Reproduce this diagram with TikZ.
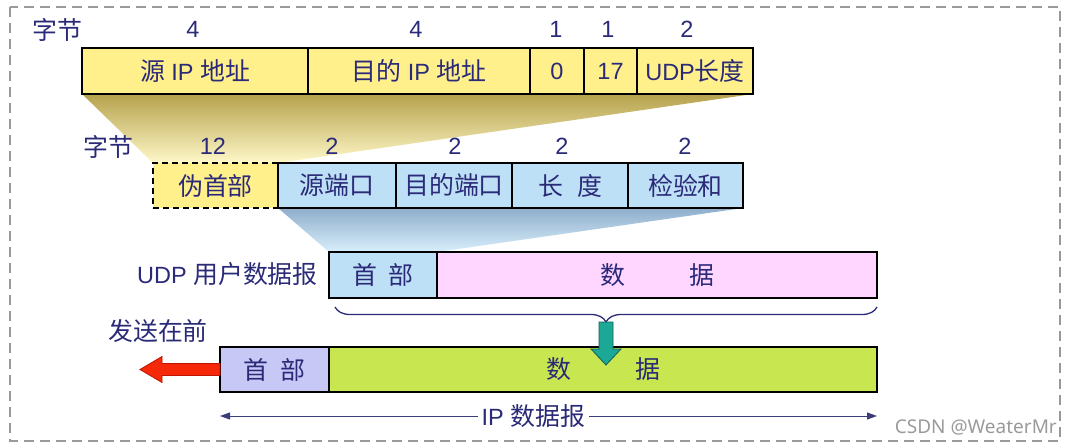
\documentclass[tikz,border=0pt]{standalone}
\usepackage{fontspec}
\setmainfont{Liberation Sans}
\newfontfamily\cjk{Noto Sans CJK SC}[Scale=1.06]
\newfontfamily\markfont{Noto Sans}
\usetikzlibrary{positioning,backgrounds,decorations.pathreplacing,arrows.meta}

\newcommand{\zh}[1]{{\cjk #1}}
\newcommand{\fieldfont}{\fontsize{23.5}{26}\selectfont}

\definecolor{textnavy}{HTML}{2A2A78}
\definecolor{yfill}{HTML}{FFF08C}
\definecolor{bfill}{HTML}{BEE0F6}
\definecolor{pfill}{HTML}{FFD6FF}
\definecolor{lfill}{HTML}{C8C8F6}
\definecolor{gfill}{HTML}{C8E650}
\definecolor{yshadetop}{HTML}{B5A24C}
\definecolor{yshadebot}{HTML}{FFF8C8}
\definecolor{bshadetop}{HTML}{8FAECB}
\definecolor{bshadebot}{HTML}{D8EEFB}
\definecolor{framegray}{HTML}{9A9A9A}

\tikzset{
  field/.style={draw=black, line width=1.1pt, minimum height=46pt, inner sep=0pt,
    outer sep=0pt, text=textnavy, font=\fieldfont},
  yfield/.style={field, fill=yfill},
  bfield/.style={field, fill=bfill, minimum height=45pt},
  lbl/.style={text=textnavy, font=\fieldfont, inner sep=1pt},
  brace/.style={decorate, decoration={brace, mirror, amplitude=15pt},
    draw=textnavy, line width=1.3pt},
}

\begin{document}
\begin{tikzpicture}[x=1pt, y=-1pt]
    \useasboundingbox (0,0) rectangle (1068,446);
    % outer dashed frame
    \draw[framegray, line width=1.4pt, dash pattern=on 10pt off 6pt] (10,7) rectangle (1060,441);

    % IP pseudo header fields
    \node[yfield, anchor=west, minimum width=226pt] (src) at (82,71) {\zh{源} IP \zh{地址}};
    \node[yfield, minimum width=222pt, right=0pt of src] (dst) {\zh{目的} IP \zh{地址}};
    \node[yfield, minimum width=54pt, right=0pt of dst] (zero) {0};
    \node[yfield, minimum width=53pt, right=0pt of zero] (proto) {17};
    \node[yfield, minimum width=116pt, right=0pt of proto] (ulen) {UDP\zh{长度}};

    \node[lbl] (bytes1) at (57,30) {\zh{字节}};
    \node[lbl] at (193,29) {4};
    \node[lbl] at (416,29) {4};
    \node[lbl] at (556,29) {1};
    \node[lbl] at (608,29) {1};
    \node[lbl] at (687,29) {2};

    % UDP header fields
    \node[yfield, dash pattern=on 6pt off 4pt, minimum height=45pt, anchor=west, minimum width=125pt] (psd) at (153,185.5) {\zh{伪首部}};
    \node[bfield, minimum width=118pt, right=0pt of psd] (sport) {\zh{源端口}};
    \node[bfield, minimum width=116pt, right=0pt of sport] (dport) {\zh{目的端口}};
    \node[bfield, minimum width=116pt, right=0pt of dport] (len) {\zh{长\hspace{14pt}度}};
    \node[bfield, minimum width=115pt, right=0pt of len] (csum) {\zh{检验和}};

    \node[lbl] (bytes2) at (108,147) {\zh{字节}};
    \node[lbl] at (213,146) {12};
    \node[lbl] at (332,146) {2};
    \node[lbl] at (455,146) {2};
    \node[lbl] at (562,146) {2};
    \node[lbl] at (685,146) {2};

    % UDP user datagram
    \node[field, fill=bfill, anchor=west, minimum width=108pt] (uhdr) at (329,275) {\zh{首\hspace{12pt}部}};
    \node[field, fill=pfill, minimum width=440pt, right=0pt of uhdr] (udata) {\zh{数\hspace{64pt}据}};
    \node[lbl, anchor=east] (udpname) at (319,274) {UDP \zh{用户数据报}};

    % IP datagram
    \node[field, fill=lfill, minimum height=45pt, anchor=west, minimum width=109pt] (iphdr) at (220,369.5) {\zh{首\hspace{12pt}部}};
    \node[field, fill=gfill, minimum height=45pt, minimum width=548pt, right=0pt of iphdr] (ipdata) {\zh{数\hspace{64pt}据}};
    \node[lbl] (first) at (158,331) {\zh{发送在前}};

    % shaded fans between the rows
    \begin{scope}[on background layer]
        \shade[top color=yshadetop, bottom color=yshadebot]
            (src.south west) -- (ulen.south east) -- (psd.north east) -- (psd.north west) -- cycle;
        \shade[top color=bshadetop, bottom color=bshadebot]
            (sport.south west) -- (csum.south east) -- (uhdr.north east) -- (uhdr.north west) -- cycle;
    \end{scope}

    % brace and the arrow down into the IP data
    \coordinate (bl) at (335,307);
    \coordinate (br) at (877,307);
    \draw[brace] (bl) -- (br);
    \coordinate (btip) at (606,322);
    \draw[fill={rgb,255:red,28;green,168;blue,150}, draw={rgb,255:red,20;green,95;blue,85}, line width=0.8pt]
        (btip) ++(-7,0) -- ++(14,0) -- ++(0,27) -- ++(8,0) -- ++(-15,16) -- ++(-15,-16) -- ++(8,0) -- cycle;

    % sending direction
    \draw[fill={rgb,255:red,245;green,40;blue,10}, draw={rgb,255:red,190;green,20;blue,0}, line width=0.8pt]
        (iphdr.west) ++(0,-6) -- ++(-58,0) -- ++(0,-7) -- ++(-22,13) -- ++(22,13) -- ++(0,-7) -- ++(58,0) -- cycle;

    % IP datagram length
    \coordinate (ipl) at (220,416);
    \coordinate (ipr) at (877,416);
    \draw[{Triangle[length=10pt,width=7pt]}-{Triangle[length=10pt,width=7pt]}, draw={rgb,255:red,60;green,60;blue,120}, line width=1pt]
        (ipl) -- node[pos=0.477, fill=white, lbl, inner sep=4pt] (iplabel) {IP \zh{数据报}} (ipr);

    \node[anchor=east, text=framegray, font=\markfont\fontsize{19}{21}\selectfont, inner sep=0pt] (mark) at (1057,427) {CSDN @WeaterMr};
\end{tikzpicture}
\end{document}
